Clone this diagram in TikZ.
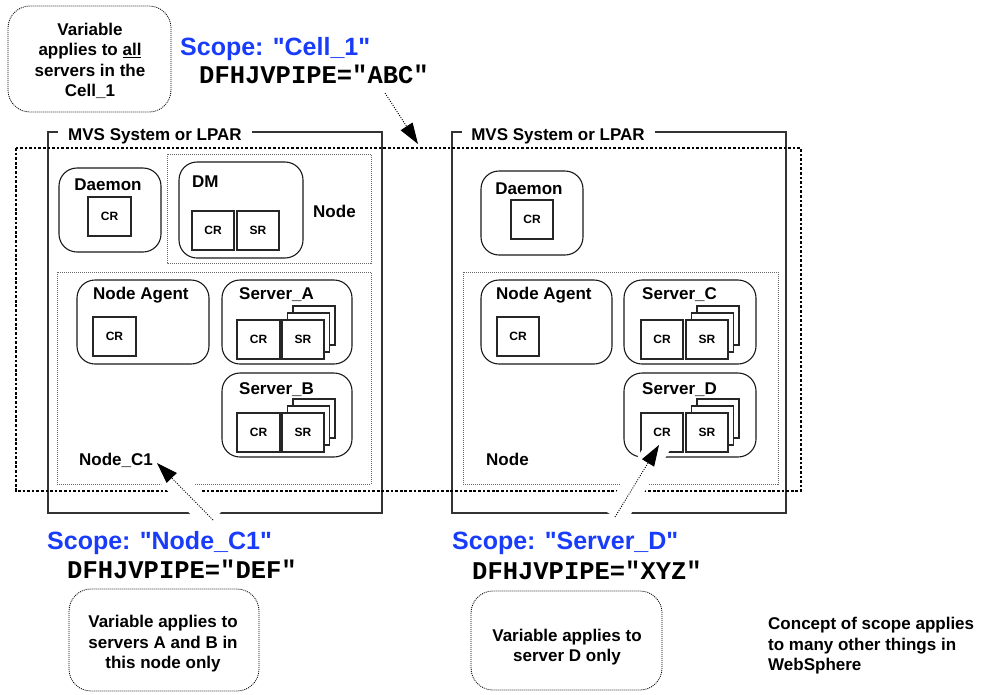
\documentclass[tikz,border=0pt]{standalone}
\usepackage{fontspec}
\setmainfont{Liberation Sans}
\newfontfamily\monof{Liberation Mono}
\usetikzlibrary{arrows.meta,calc}
\definecolor{scopeblue}{RGB}{25,60,250}
\newcommand{\qq}{\textquotedbl}
\begin{document}
\begin{tikzpicture}[x=1pt,y=-1pt,
  lbl/.style={font=\bfseries\fontsize{17}{20.5}\selectfont, inner sep=0pt},
  crl/.style={font=\bfseries\fontsize{12}{14}\selectfont},
  scopel/.style={font=\bfseries\fontsize{25}{30}\selectfont, text=scopeblue, inner sep=0pt},
  varl/.style={font=\monof\bfseries\fontsize{25.5}{30}\selectfont, inner sep=0pt},
  mvs/.style={draw=black!80, line width=1.3pt},
  cellbox/.style={draw=black, line width=2.7pt, dash pattern=on 2.7pt off 1.9pt},
  nodebox/.style={draw=black!60, line width=0.8pt, dash pattern=on 1pt off 1pt},
  comp/.style={draw=black!90, line width=1.1pt, rounded corners=18pt, minimum height=84pt, inner sep=0pt},
  crbox/.style={draw=black!85, line width=1.1pt, fill=white, minimum width=43pt, minimum height=39pt, inner sep=0pt, crl},
  callout/.style={draw=black, line width=0.8pt, dash pattern=on 1pt off 1pt, rounded corners=22pt},
  calltext/.style={font=\bfseries\fontsize{17}{20.5}\selectfont, align=center, inner sep=0pt},
  halo/.style={draw=white, line width=24pt},
  ptr/.style={draw=black, line width=0.9pt, dash pattern=on 1pt off 1.4pt, -{Triangle[length=21pt,width=14pt]}}
]
\useasboundingbox (0,0) rectangle (984,694);

% MVS boxes
\draw[mvs] (58,132) -- (48,132) -- (48,513) -- (382,513) -- (382,132) -- (252,132);
\node[lbl, anchor=base] (mvsL) at (155,140) {MVS System or LPAR};
\draw[mvs] (462,132) -- (452,132) -- (452,513) -- (786,513) -- (786,132) -- (655,132);
\node[lbl, anchor=base] (mvsR) at (558,140) {MVS System or LPAR};

% inner node boxes
\draw[nodebox] (167,154) rectangle (371,263);
\draw[nodebox] (57,272) rectangle (371,484);
\draw[nodebox] (463,272) rectangle (778,484);

% cell
\draw[cellbox] (16,148) rectangle (801,491);

% left components
\node[comp, minimum width=102pt] (daemonL) at (110,210) {};
\node[lbl, anchor=base] (daemonLt) at (108,190) {Daemon};
\node[crbox] (daemonLcr) at (109.5,216.5) {CR};

\node[comp, minimum width=124pt, minimum height=96pt] (dm) at (241,210) {};
\node[lbl, anchor=base west] (dmt) at (192,187) {DM};
\node[crbox, minimum width=42pt] (dmcr) at (213,230.5) {CR};
\node[crbox, minimum width=42pt] (dmsr) at (258,230.5) {SR};
\node[lbl, anchor=base west] (nodeDM) at (313,217) {Node};

\node[comp, minimum width=132pt] (naL) at (143,322) {};
\node[lbl, anchor=base west] (naLt) at (93,299) {Node Agent};
\node[crbox] (naLcr) at (114.5,336.5) {CR};

\node[comp, minimum width=130pt] (sA) at (287,322) {};
\node[lbl, anchor=base west] (sAt) at (239,299) {Server\_A};
\node[crbox] (sAcr) at (258.5,339.5) {CR};
\node[crbox, minimum width=42pt] (sAb2) at (314,325.5) {};
\node[crbox, minimum width=42pt] (sAb1) at (308.5,332.5) {};
\node[crbox, minimum width=42pt] (sAsr) at (303,339.5) {SR};

\node[comp, minimum width=130pt] (sB) at (287,415) {};
\node[lbl, anchor=base west] (sBt) at (239,394) {Server\_B};
\node[crbox] (sBcr) at (258.5,432.5) {CR};
\node[crbox, minimum width=42pt] (sBb2) at (314,418.5) {};
\node[crbox, minimum width=42pt] (sBb1) at (308.5,425.5) {};
\node[crbox, minimum width=42pt] (sBsr) at (303,432.5) {SR};

\node[lbl, anchor=base west] (nodeC1) at (79,465) {Node\_C1};

% right components
\node[comp, minimum width=102pt] (daemonR) at (532,213) {};
\node[lbl, anchor=base] (daemonRt) at (529,194) {Daemon};
\node[crbox, minimum width=42pt] (daemonRcr) at (532,219.5) {CR};

\node[comp, minimum width=131pt] (naR) at (546.5,322) {};
\node[lbl, anchor=base west] (naRt) at (496,299) {Node Agent};
\node[crbox, minimum width=42pt] (naRcr) at (518,336.5) {CR};

\node[comp, minimum width=132pt] (sC) at (690,322) {};
\node[lbl, anchor=base west] (sCt) at (642,299) {Server\_C};
\node[crbox, minimum width=42pt] (sCcr) at (662,339.5) {CR};
\node[crbox, minimum width=42pt] (sCb2) at (718,325.5) {};
\node[crbox, minimum width=42pt] (sCb1) at (712.5,332.5) {};
\node[crbox, minimum width=42pt] (sCsr) at (707,339.5) {SR};

\node[comp, minimum width=132pt] (sD) at (690,415) {};
\node[lbl, anchor=base west] (sDt) at (642,394) {Server\_D};
\node[crbox, minimum width=42pt] (sDcr) at (662,432.5) {CR};
\node[crbox, minimum width=42pt] (sDb2) at (718,418.5) {};
\node[crbox, minimum width=42pt] (sDb1) at (712.5,425.5) {};
\node[crbox, minimum width=42pt] (sDsr) at (707,432.5) {SR};

\node[lbl, anchor=base west] (nodeR) at (486,465) {Node};

% top texts
\draw[callout] (8,6) rectangle (171,112);
\node[calltext] (call1) at (90,61) {Variable\\applies to \underline{all}\\servers in the\\Cell\_1};
\node[scopel, anchor=base west] (scope1) at (180,55) {Scope: \qq Cell\_1\qq};
\node[varl, anchor=base west] (var1) at (199,83.5) {DFHJVPIPE="ABC"};

% bottom left texts
\node[scopel, anchor=base west] (scope2) at (47,549) {Scope: \qq Node\_C1\qq};
\node[varl, anchor=base west] (var2) at (67,578) {DFHJVPIPE="DEF"};
\draw[callout] (69,589) rectangle (259,691);
\node[calltext] (call2) at (163,644) {Variable applies to\\servers A and B in\\this node only};

% bottom right texts
\node[scopel, anchor=base west] (scope3) at (452,549) {Scope: \qq Server\_D\qq};
\node[varl, anchor=base west] (var3) at (472,579) {DFHJVPIPE="XYZ"};
\draw[callout] (471,591) rectangle (662,690);
\node[calltext] (call3) at (567,647) {Variable applies to\\server D only};

\node[calltext, align=left, anchor=west] (concept) at (768,646) {Concept of scope applies\\to many other things in\\WebSphere};

% arrows
\coordinate (a1s) at (385,93);
\coordinate (a1e) at (418,144);
\coordinate (a2s) at (213,520);
\coordinate (a2e) at (157,463);
\coordinate (a3s) at (615,517);
\coordinate (a3e) at (659,445);
\draw[halo] (a2s) -- ($(a2s)!0.9!(a2e)$);
\draw[halo] (a3s) -- (a3e);
\draw[ptr] (a1s) -- (a1e);
\draw[ptr] (a2s) -- (a2e);
\draw[ptr] (a3s) -- (a3e);
\end{tikzpicture}
\end{document}
